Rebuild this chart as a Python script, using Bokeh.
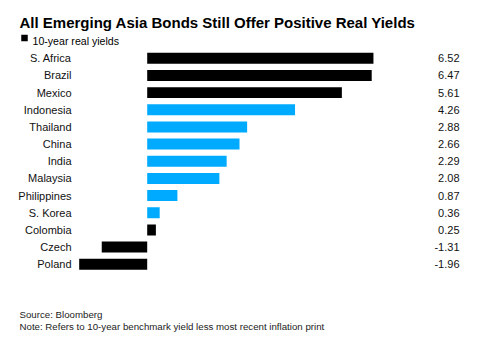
from bokeh.plotting import figure
from bokeh.models import Range1d, ColumnDataSource
from bokeh.core.properties import value
from bokeh.embed import file_html
from bokeh.resources import INLINE
import numpy as np

title = "All Emerging Asia Bonds Still Offer Positive Real Yields"
legend_label = "10-year real yields"
countries = ["S. Africa", "Brazil", "Mexico", "Indonesia", "Thailand", "China", "India",
             "Malaysia", "Philippines", "S. Korea", "Colombia", "Czech", "Poland"]
yields = [6.52, 6.47, 5.61, 4.26, 2.88, 2.66, 2.29, 2.08, 0.87, 0.36, 0.25, -1.31, -1.96]
is_asia = [False, False, False, True, True, True, True, True, True, True, False, False, False]
source_text = "Source: Bloomberg"
note_text = "Note: Refers to 10-year benchmark yield less most recent inflation print"

W, H = 499, 338
BLUE = "#00aaff"
FONT = "Liberation Sans"

# pixel geometry of the plot frame (frame covers whole canvas)
x0_px, px_per_unit = 146.7, 34.7
row0_px, row_px = 57.8, 17.16

def dx(px):
    return (px - x0_px) / px_per_unit

def dy(px):
    return (px - row0_px) / row_px

p = figure(width=W, height=H, output_backend="svg", toolbar_location=None,
           x_range=Range1d(dx(0), dx(W)), y_range=Range1d(dy(H), dy(0)),
           min_border=0, min_border_left=0, min_border_right=0,
           min_border_top=0, min_border_bottom=0)
p.axis.visible = False
p.grid.visible = False
p.outline_line_color = None
p.background_fill_color = "white"
p.border_fill_color = "white"

idx = np.arange(len(countries))
colors = [BLUE if a else "black" for a in is_asia]
src = ColumnDataSource(dict(y=idx, v=yields, c=colors, name=countries,
                            lab=[f"{v:.2f}" for v in yields]))

p.hbar(y="y", left=0, right="v", height=0.64, fill_color="c", line_color=None, source=src)

p.text(x=dx(71), y="y", text="name", source=src, text_align="right", text_baseline="middle",
       text_font=value(FONT), text_font_size="11px", text_color="#111111")
p.text(x=dx(459), y="y", text="lab", source=src, text_align="right", text_baseline="middle",
       text_font=value(FONT), text_font_size="11px", text_color="#111111")

# title, legend, footnotes
p.text(x=[dx(19)], y=[dy(22)], text=[title], text_align="left", text_baseline="alphabetic",
       text_font=value(FONT), text_font_style="bold", text_font_size="15px", text_color="black")
p.rect(x=[dx(24)], y=[dy(37.4)], width=6.5 / px_per_unit, height=6.5 / row_px,
       fill_color="black", line_color=None)
p.text(x=[dx(32)], y=[dy(40.8)], text=[legend_label], text_align="left", text_baseline="alphabetic",
       text_font=value(FONT), text_font_size="10.6px", text_color="black")
p.text(x=[dx(19), dx(19)], y=[dy(314.3), dy(325.7)], text=[source_text, note_text],
       text_align="left", text_baseline="alphabetic",
       text_font=value(FONT), text_font_size="9.7px", text_color="#222222")

open("out.html", "w").write(file_html(p, INLINE))
